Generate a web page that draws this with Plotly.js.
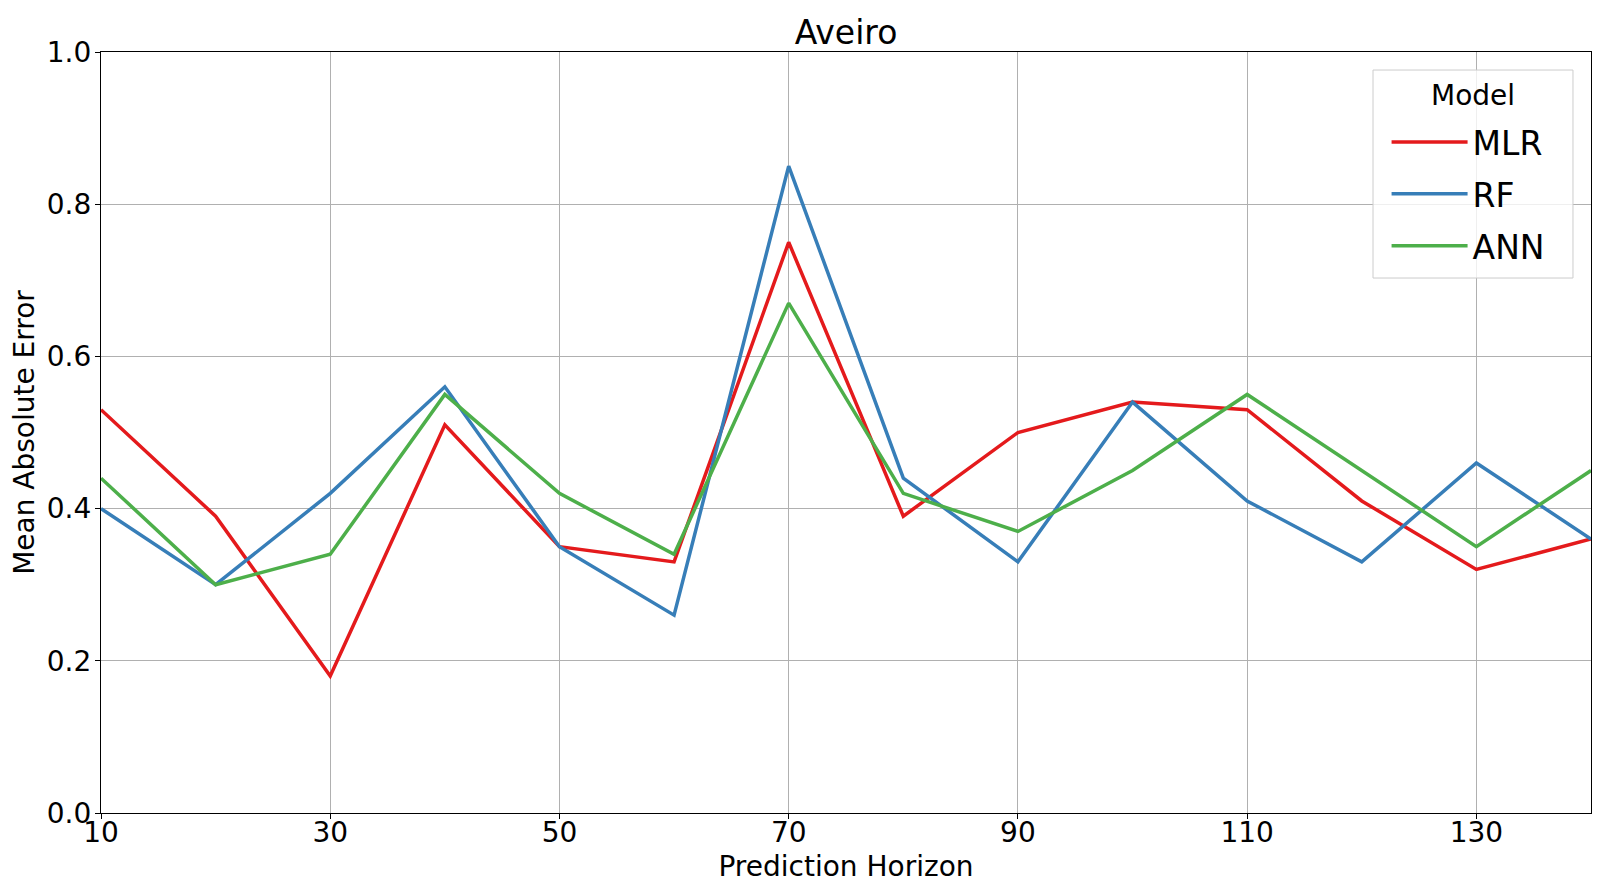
<!DOCTYPE html>
<html>
<head>
<meta charset="utf-8">
<script src="https://cdn.plot.ly/plotly-3.0.1.min.js"></script>
<style>
  html, body { margin: 0; padding: 0; background: #fff; }
  #chart { width: 1621px; height: 884px; }
</style>
</head>
<body>
<div id="chart"></div>
<script>
const horizons = [10, 20, 30, 40, 50, 60, 70, 80, 90, 100, 110, 120, 130, 140];
const mlrValues = [0.53, 0.39, 0.18, 0.51, 0.35, 0.33, 0.75, 0.39, 0.50, 0.54, 0.53, 0.41, 0.32, 0.36];
const rfValues = [0.40, 0.30, 0.42, 0.56, 0.35, 0.26, 0.85, 0.44, 0.33, 0.54, 0.41, 0.33, 0.46, 0.36];
const annValues = [0.44, 0.30, 0.34, 0.55, 0.42, 0.34, 0.67, 0.42, 0.37, 0.45, 0.55, 0.45, 0.35, 0.45];
const xTicks = [10, 30, 50, 70, 90, 110, 130];
const yTicks = [0.0, 0.2, 0.4, 0.6, 0.8, 1.0];

const seriesArr = [
  { name: 'MLR', values: mlrValues, color: '#e41a1c' },
  { name: 'RF', values: rfValues, color: '#377eb8' },
  { name: 'ANN', values: annValues, color: '#4daf4a' },
];

const font = 'DejaVu Sans, sans-serif';

const traces = seriesArr.map((s) => ({
  x: horizons,
  y: s.values,
  name: s.name,
  legendgroup: s.name,
  mode: 'lines',
  line: { color: s.color, width: 3.5 },
}));

const axisBase = {
  showline: true,
  mirror: true,
  linecolor: '#000',
  linewidth: 1.2,
  showgrid: true,
  gridcolor: '#b0b0b0',
  gridwidth: 1.1,
  zeroline: false,
  ticks: 'outside',
  ticklen: 5,
  tickwidth: 1.2,
  tickcolor: '#000',
  tickfont: { family: font, size: 28, color: '#000' },
};

// legend frame drawn as a shape so the "Model" heading can sit with matplotlib spacing
const legendBox = { x0: 0.8537, x1: 0.9879, y0: 0.703, y1: 0.9763 };

const layout = {
  width: 1621,
  height: 884,
  margin: { l: 101, r: 30, t: 52, b: 71 },
  paper_bgcolor: '#fff',
  plot_bgcolor: '#fff',
  font: { family: font, color: '#000' },
  title: {
    text: 'Aveiro',
    font: { family: font, size: 33, color: '#000' },
    x: 0.5,
    xref: 'paper',
    xanchor: 'center',
    y: 0.9638,
    yanchor: 'middle',
  },
  xaxis: Object.assign({}, axisBase, {
    range: [10, 140],
    tickvals: xTicks,
    ticktext: xTicks.map(String),
    ticklabelstandoff: -11,
    title: { text: 'Prediction Horizon', font: { family: font, size: 28, color: '#000' }, standoff: 8 },
  }),
  yaxis: Object.assign({}, axisBase, {
    range: [0, 1],
    tickvals: yTicks,
    ticktext: yTicks.map((v) => v.toFixed(1)),
    ticklabelstandoff: -2,
    title: { text: 'Mean Absolute Error', font: { family: font, size: 28, color: '#000' }, standoff: 3 },
  }),
  shapes: [{
    type: 'rect',
    xref: 'paper',
    yref: 'paper',
    x0: legendBox.x0,
    x1: legendBox.x1,
    y0: legendBox.y0,
    y1: legendBox.y1,
    fillcolor: 'rgba(255,255,255,0.8)',
    line: { color: '#cccccc', width: 1 },
    layer: 'above',
  }],
  annotations: [{
    text: 'Model',
    xref: 'paper',
    yref: 'paper',
    x: 0.9208,
    y: 0.9425,
    xanchor: 'center',
    yanchor: 'middle',
    showarrow: false,
    font: { family: font, size: 28, color: '#000' },
  }],
  legend: {
    x: 0.8628,
    y: 0.9185,
    xanchor: 'left',
    yanchor: 'top',
    bgcolor: 'rgba(0,0,0,0)',
    borderwidth: 0,
    font: { family: font, size: 33, color: '#000' },
    itemwidth: 76,
    tracegroupgap: 6,
  },
};

Plotly.newPlot('chart', traces, layout, { displayModeBar: false, responsive: false });
</script>
</body>
</html>
